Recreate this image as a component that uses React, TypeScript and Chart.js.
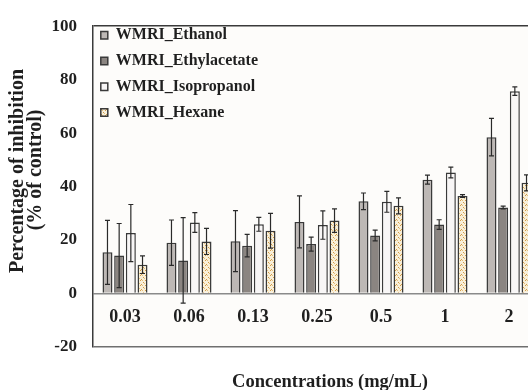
import React, { useEffect, useRef } from "react";
import { Chart, registerables } from "chart.js";

Chart.register(...registerables);

const categories = ["0.03", "0.06", "0.13", "0.25", "0.5", "1", "2"];
const ethanol = [15.4, 19.0, 19.6, 26.8, 34.5, 42.6, 58.5];
const ethanolErr = [12, 8.5, 11.4, 9.7, 3.1, 1.7, 7];
const ethyl = [14.2, 12.4, 17.9, 18.5, 21.7, 25.8, 32.2];
const ethylErr = [12, 16, 4.2, 2.6, 2, 1.8, 0.5];
const iso = [22.6, 26.6, 25.9, 25.6, 34.3, 45.3, 75.7];
const isoErr = [10.7, 3.7, 2.6, 5.3, 3.9, 2, 1.6];
const hex = [10.8, 19.5, 23.5, 27.3, 32.8, 36.5, 41.4];
const hexErr = [3.3, 4.9, 6.5, 4.4, 3, 0.5, 3];
const seriesNames = ["WMRI_Ethanol", "WMRI_Ethylacetate", "WMRI_Isopropanol", "WMRI_Hexane"];
const yTitle = ["Percentage of inhibition", "(% of control)"];
const xTitle = "Concentrations (mg/mL)";

const FONT = '"Liberation Serif", "Times New Roman", serif';
const TEXT = "#1f1f1f";

function makeHexPattern(): CanvasPattern | string {
  const c = document.createElement("canvas");
  c.width = 5;
  c.height = 5;
  const g = c.getContext("2d");
  if (!g) return "#f1dfb5";
  g.fillStyle = "#f8efd9";
  g.fillRect(0, 0, 5, 5);
  g.fillStyle = "#d39b46";
  g.fillRect(0, 0, 1, 1);
  g.fillRect(3, 2, 1, 1);
  g.fillRect(1, 4, 1, 1);
  g.fillStyle = "#e6c07c";
  g.fillRect(2, 0, 1, 1);
  g.fillRect(4, 3, 1, 1);
  const p = g.createPattern(c, "repeat");
  return p || "#f1dfb5";
}

const bgPlugin = {
  id: "plotBg",
  beforeDraw(chart: any) {
    const { ctx, chartArea } = chart;
    ctx.save();
    ctx.fillStyle = "#fdfcfa";
    ctx.fillRect(chartArea.left, chartArea.top, chartArea.right - chartArea.left, chartArea.bottom - chartArea.top);
    ctx.restore();
  },
};

const legendShift = {
  id: "legendShift",
  afterLayout(chart: any) {
    const l = chart.legend;
    if (!l) return;
    const h = l.height;
    l.top = chart.chartArea.top - 8.8;
    l.bottom = l.top + h;
    l.left -= 2;
    l.right -= 2;
  },
};

const errorBars = {
  id: "errorBars",
  afterDatasetsDraw(chart: any) {
    const { ctx } = chart;
    const ys = chart.scales.y;
    ctx.save();
    ctx.strokeStyle = "#2a2a2a";
    ctx.lineWidth = 1.2;
    chart.data.datasets.forEach((ds: any, di: number) => {
      const meta = chart.getDatasetMeta(di);
      meta.data.forEach((bar: any, i: number) => {
        const v = ds.data[i];
        const e = ds.errors[i];
        const t = ys.getPixelForValue(v + e);
        const b = ys.getPixelForValue(v - e);
        const x = bar.x;
        ctx.beginPath();
        ctx.moveTo(x, t);
        ctx.lineTo(x, b);
        ctx.moveTo(x - 2.5, t);
        ctx.lineTo(x + 2.5, t);
        ctx.moveTo(x - 2.5, b);
        ctx.lineTo(x + 2.5, b);
        ctx.stroke();
      });
    });
    ctx.restore();
  },
};

const axisTitles = {
  id: "axisTitles",
  afterDraw(chart: any) {
    const { ctx } = chart;
    ctx.save();
    ctx.fillStyle = TEXT;
    ctx.textAlign = "center";
    ctx.textBaseline = "middle";
    ctx.font = `bold 20px ${FONT}`;
    ctx.save();
    ctx.translate(17.5, 171);
    ctx.rotate(-Math.PI / 2);
    ctx.fillText(yTitle[0], 0, 0);
    ctx.restore();
    ctx.save();
    ctx.translate(35.5, 170);
    ctx.rotate(-Math.PI / 2);
    ctx.fillText(yTitle[1], 0, 0);
    ctx.restore();
    ctx.font = `bold 18.5px ${FONT}`;
    ctx.textBaseline = "alphabetic";
    ctx.fillText(xTitle, 330, 386.5);
    ctx.restore();
  },
};

export default function App() {
  const ref = useRef<HTMLCanvasElement | null>(null);

  useEffect(() => {
    if (!ref.current) return;
    const hexPattern = makeHexPattern();
    const common = {
      borderColor: "#3a3a3a",
      borderWidth: 1.5,
      categoryPercentage: 0.73,
      barPercentage: 0.855,
    };
    const chart = new Chart(ref.current, {
      type: "bar",
      data: {
        labels: categories,
        datasets: [
          { label: seriesNames[0], data: ethanol, errors: ethanolErr, backgroundColor: "#bdb8b5", ...common } as any,
          { label: seriesNames[1], data: ethyl, errors: ethylErr, backgroundColor: "#8b8581", ...common } as any,
          { label: seriesNames[2], data: iso, errors: isoErr, backgroundColor: "#f8f6f6", ...common } as any,
          { label: seriesNames[3], data: hex, errors: hexErr, backgroundColor: hexPattern, ...common } as any,
        ],
      },
      options: {
        animation: false,
        responsive: false,
        events: [],
        layout: { padding: { left: 0, top: 20, right: 19, bottom: 43 } },
        plugins: {
          tooltip: { enabled: false },
          title: { display: false },
          legend: {
            position: "chartArea" as any,
            align: "start",
            labels: {
              color: TEXT,
              font: { family: FONT, size: 16, weight: "bold" },
              boxWidth: 7,
              boxHeight: 7.5,
              padding: 9.8,
            },
          },
        },
        scales: {
          x: {
            type: "category",
            position: { y: 0 } as any,
            afterFit(scale: any) {
              scale.height = 0;
            },
            grid: { display: false, drawTicks: false },
            border: { display: false },
            ticks: {
              color: TEXT,
              font: { family: FONT, size: 18, weight: "bold" },
              padding: 12.6,
              maxRotation: 0,
              autoSkip: false,
            },
          },
          y: {
            min: -20,
            max: 100,
            afterFit(scale: any) {
              scale.width = 93;
            },
            ticks: {
              stepSize: 20,
              color: TEXT,
              font: { family: FONT, size: 17, weight: "bold" },
              padding: 16,
            },
            grid: {
              drawTicks: false,
              lineWidth: 1.5,
              color: (c: any) => {
                const v = c.tick ? c.tick.value : null;
                if (v === 100) return "#3a3a3a";
                if (v === 0) return "#8a8a8a";
                if (v === -20) return "#6f6f6f";
                return "rgba(0,0,0,0)";
              },
            },
            border: { display: true, color: "#3a3a3a", width: 1.5 },
          },
        },
      },
      plugins: [bgPlugin, legendShift, errorBars, axisTitles],
    });
    return () => chart.destroy();
  }, []);

  return (
    <div style={{ position: "absolute", left: 0, top: 0, width: 528, height: 390, overflow: "hidden", background: "#ffffff" }}>
      <canvas ref={ref} width={560} height={390} style={{ display: "block" }} />
    </div>
  );
}
